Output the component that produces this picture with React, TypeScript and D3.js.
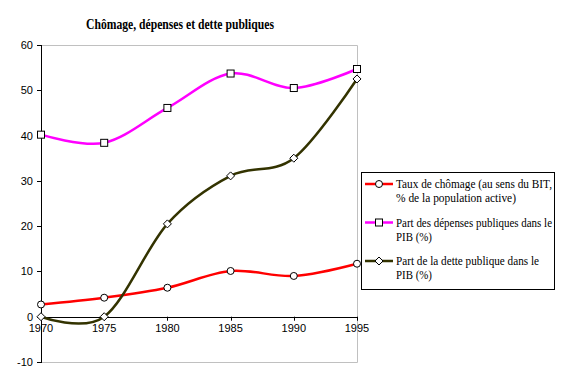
import React from "react";
import * as d3 from "d3";

const years = [1970, 1975, 1980, 1985, 1990, 1995];
const chomage = [2.7, 4.2, 6.4, 10.1, 9.0, 11.7];
const depenses = [40.2, 38.4, 46.1, 53.7, 50.5, 54.7];
const dette = [0, 0, 20.5, 31.1, 35.0, 52.5];
const yTicks = [-10, 0, 10, 20, 30, 40, 50, 60];
const seriesNames = [
  ["Taux de chômage (au sens du BIT,", "% de la population active)"],
  ["Part des dépenses publiques dans le", "PIB (%)"],
  ["Part de la dette publique dans le", "PIB (%)"],
];
const seriesColors = ["#ff0000", "#ff00ff", "#333300"];
const markers = ["circle", "square", "diamond"];

const W = 561, H = 377;
const L = 41, R = 357, T = 45, B = 362;

function Marker({ type, x, y }: { type: string; x: number; y: number }) {
  if (type === "circle") return <circle cx={x} cy={y} r={3.5} fill="#fff" stroke="#000" strokeWidth={1} />;
  if (type === "square") return <rect x={x - 3.5} y={y - 3.5} width={7} height={7} fill="#fff" stroke="#000" strokeWidth={1} />;
  return <path d={`M${x},${y - 4}L${x + 4},${y}L${x},${y + 4}L${x - 4},${y}Z`} fill="#fff" stroke="#000" strokeWidth={1} />;
}

const legendWidths = [[156, 120], [156, 36], [143, 36]];

export default function App() {
  const x = d3.scaleLinear().domain([1970, 1995]).range([L, R]);
  const y = d3.scaleLinear().domain([-10, 60]).range([B, T]);
  const line = d3.line<number>()
    .x((_, i) => x(years[i]))
    .y((d) => y(d))
    .curve(d3.curveCardinal.tension(0));
  const data = [chomage, depenses, dette];
  const sans = "Liberation Sans, Arial, sans-serif";
  const serif = "Liberation Serif, Times New Roman, serif";
  return (
    <svg width={W} height={H} style={{ position: "absolute", left: 0, top: 0 }}>
      <rect width={W} height={H} fill="#fff" />
      <text x={180} y={29} textAnchor="middle" fontFamily={serif} fontWeight="bold" fontSize={14}
        textLength={188} lengthAdjust="spacingAndGlyphs">
        Chômage, dépenses et dette publiques
      </text>
      {/* plot border */}
      <path d={`M${L},${T + 0.5}H${R + 0.5}V${B + 0.5}H${L}`} fill="none" stroke="#c0c0c0" strokeWidth={1} />
      {/* y axis */}
      <line x1={L + 0.5} x2={L + 0.5} y1={T} y2={B + 1} stroke="#000" />
      {yTicks.map((t) => (
        <g key={t}>
          <line x1={L - 4} x2={L + 0.5} y1={Math.round(y(t)) + 0.5} y2={Math.round(y(t)) + 0.5} stroke="#000" />
          <text x={33} y={y(t) + 4} textAnchor="end" fontFamily={sans} fontSize={11}>{t}</text>
        </g>
      ))}
      {/* x axis at 0 */}
      <line x1={L} x2={R + 1} y1={Math.round(y(0)) + 0.5} y2={Math.round(y(0)) + 0.5} stroke="#000" />
      {years.map((yr) => (
        <g key={yr}>
          <line x1={Math.round(x(yr)) + 0.5} x2={Math.round(x(yr)) + 0.5} y1={y(0)} y2={y(0) + 4} stroke="#000" />
          <text x={x(yr)} y={y(0) + 15} textAnchor="middle" fontFamily={sans} fontSize={11}>{yr}</text>
        </g>
      ))}
      {data.map((d, si) => (
        <g key={si}>
          <path d={line(d) || ""} fill="none" stroke={seriesColors[si]} strokeWidth={2.5} />
          {d.map((v, i) => (
            <Marker key={i} type={markers[si]} x={x(years[i])} y={y(v)} />
          ))}
        </g>
      ))}
      {/* legend */}
      <rect x={361.5} y={172.5} width={193} height={117} fill="#fff" stroke="#000" />
      {seriesNames.map((lines, i) => {
        const ly = 184 + i * 38.5;
        return (
          <g key={i}>
            <line x1={365} x2={393} y1={ly} y2={ly} stroke={seriesColors[i]} strokeWidth={2.5} />
            <Marker type={markers[i]} x={379} y={ly} />
            <text x={396} y={ly + 4} fontFamily={serif} fontSize={12}
              textLength={legendWidths[i][0]} lengthAdjust="spacingAndGlyphs">{lines[0]}</text>
            <text x={396} y={ly + 18} fontFamily={serif} fontSize={12}
              textLength={legendWidths[i][1]} lengthAdjust="spacingAndGlyphs">{lines[1]}</text>
          </g>
        );
      })}
    </svg>
  );
}
